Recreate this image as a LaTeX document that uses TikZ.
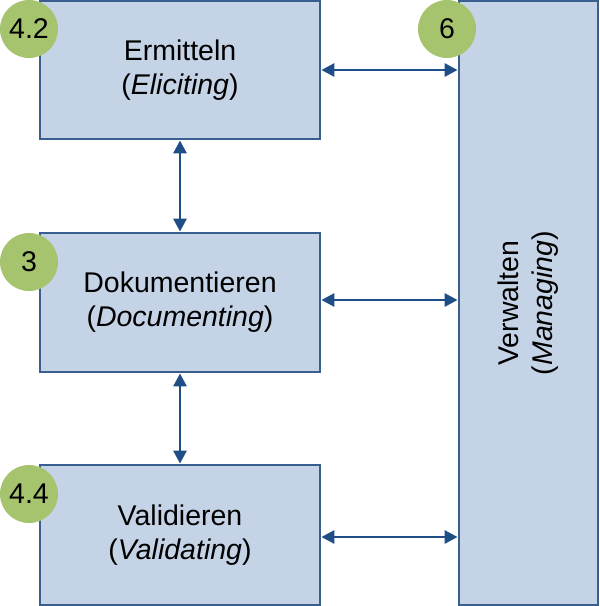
\documentclass[tikz,border=0pt]{standalone}
\usepackage{fontspec}
\setmainfont{Liberation Sans}
\usetikzlibrary{arrows.meta}
\definecolor{boxfill}{HTML}{C5D3E6}
\definecolor{boxline}{HTML}{3A5F8E}
\definecolor{arrowcol}{HTML}{1F4E86}
\definecolor{badge}{HTML}{A6C36D}
\tikzset{
  procbox/.style={draw=boxline, fill=boxfill, line width=1.8pt, inner sep=0pt,
    align=center, font=\fontsize{28.5}{34}\selectfont},
  badgecirc/.style={circle, fill=badge, minimum size=58pt, inner sep=0pt,
    font=\fontsize{28.5}{30}\selectfont},
  conn/.style={draw=arrowcol, line width=2.9pt,
    {Triangle[length=13pt,width=13pt]}-{Triangle[length=13pt,width=13pt]}, shorten <=0.5pt, shorten >=0.5pt}
}
\begin{document}
\begin{tikzpicture}[x=1pt,y=-1pt]
\useasboundingbox (0,0) rectangle (600,606);
\node[procbox, minimum width=280pt, minimum height=138pt] (E) at (180,70) {Ermitteln\\(\textit{Eliciting})};
\node[procbox, minimum width=280pt, minimum height=139pt] (D) at (180,302.5) {Dokumentieren\\(\textit{Documenting})};
\node[procbox, minimum width=280pt, minimum height=140pt] (V) at (180,535) {Validieren\\(\textit{Validating})};
\node[procbox, minimum width=139pt, minimum height=604pt] (W) at (528.5,303) {};
\node[rotate=90, align=center, font=\fontsize{28.5}{34}\selectfont] (WT) at (W.center) {Verwalten\\(\textit{Managing})};
\node[badgecirc] (b1) at (29,29) {4.2};
\node[badgecirc] (b2) at (447,29) {6};
\node[badgecirc] (b3) at (29,262) {3};
\node[badgecirc] (b4) at (29,494) {4.4};
\draw[conn] (E.east) -- (E.east -| W.west);
\draw[conn] (D.east |- 0,300) -- (W.west |- 0,300);
\draw[conn] (V.east |- 0,537) -- (W.west |- 0,537);
\draw[conn] (E.south) -- (D.north);
\draw[conn] (D.south) -- (V.north);
\end{tikzpicture}
\end{document}
